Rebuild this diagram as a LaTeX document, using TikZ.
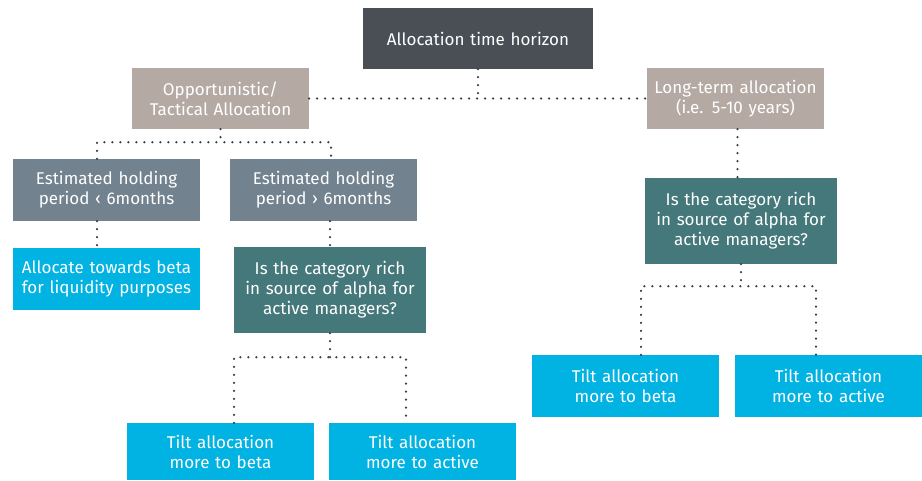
\documentclass[tikz,border=0pt]{standalone}
\usepackage{fontspec}
\setmainfont{Fira Sans}
\usepackage{xcolor}
\usetikzlibrary{positioning}
\definecolor{topgrey}{HTML}{4A4E55}
\definecolor{taupe}{HTML}{B5A9A3}
\definecolor{slate}{HTML}{72828F}
\definecolor{teal}{HTML}{44787A}
\definecolor{skyblue}{HTML}{00B3E3}
\definecolor{dotgrey}{HTML}{3C4046}
\tikzset{box/.style n args = {3}{fill=#1, text=white, inner sep = 0, text width = #2, minimum height = #3, align = center, font=\fontsize{17}{20}\selectfont},
         dots/.style = {dotgrey, line width = 2.5pt, line cap = round, dash pattern = on 0pt off 8pt}}

\begin{document}
\begin{tikzpicture}[x=1pt,y=-1pt]
        \useasboundingbox (0,0) rectangle (922,480);
        \node[box={topgrey}{230pt}{61pt}] (horizon) at (478,38.5) {Allocation time horizon};
        \node[box={taupe}{177pt}{61pt}] (tactical) at (220.5,98.5) {Opportunistic/\\Tactical Allocation};
        \node[box={taupe}{177pt}{61pt}] (longterm) at (735.5,98.5) {Long-term allocation\\(i.e. 5-10 years)};
        \node[box={slate}{187pt}{62pt}] (holdshort) at (106.5,190) {Estimated holding\\period ‹ 6months};
        \node[box={slate}{187pt}{62pt}] (holdlong) at (323.5,190) {Estimated holding\\period › 6months};
        \node[box={skyblue}{187pt}{62pt}] (liquidity) at (106.5,279) {Allocate towards beta\\for liquidity purposes};
        \node[box={teal}{192pt}{86pt}] (alphaleft) at (330,290) {Is the category rich\\in source of alpha for\\active managers?};
        \node[box={teal}{192pt}{86pt}] (alpharight) at (741,221) {Is the category rich\\in source of alpha for\\active managers?};
        \node[box={skyblue}{187pt}{57pt}] (betaleft) at (220.5,451.5) {Tilt allocation\\more to beta};
        \node[box={skyblue}{187pt}{57pt}] (activeleft) at (422.5,451.5) {Tilt allocation\\more to active};
        \node[box={skyblue}{187pt}{62pt}] (betaright) at (625.5,386) {Tilt allocation\\more to beta};
        \node[box={skyblue}{187pt}{62pt}] (activeright) at (828.5,386) {Tilt allocation\\more to active};
        \coordinate (tacticalfork) at ([yshift=-13pt]tactical.south);
        \coordinate (leftfork) at ([yshift=-24pt]alphaleft.south);
        \coordinate (rightfork) at ([yshift=-22pt]alpharight.south);
        \draw[dots] (tactical.east) -- (longterm.west);
        \draw[dots] (horizon.south) -- (horizon.south |- tactical.east);
        \draw[dots] (tactical.south) -- (tacticalfork);
        \draw[dots] ([xshift=-9.5pt]holdshort.north) |- (tacticalfork) -| ([xshift=7.5pt]holdlong.north);
        \draw[dots] ([xshift=-9.5pt]holdshort.south) -- ([xshift=-9.5pt]liquidity.north);
        \draw[dots] (alphaleft.north |- holdlong.south) -- (alphaleft.north);
        \draw[dots] (alphaleft.south) -- (leftfork);
        \draw[dots] ([xshift=13.5pt]betaleft.north) |- (leftfork) -| ([xshift=-16.5pt]activeleft.north);
        \draw[dots] ([xshift=2pt]longterm.south) -- ([xshift=2pt]longterm.south |- alpharight.north);
        \draw[dots] (alpharight.south) -- (rightfork);
        \draw[dots] ([xshift=15.5pt]betaright.north) |- (rightfork) -| ([xshift=-12.5pt]activeright.north);
    \end{tikzpicture}
\end{document}
